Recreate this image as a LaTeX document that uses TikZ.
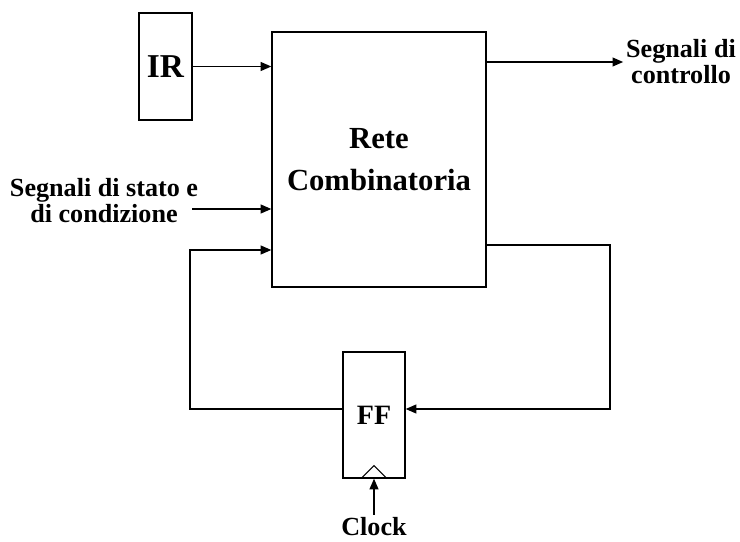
\documentclass[tikz,border=0pt]{standalone}
\usepackage{fontspec}
\setmainfont{Liberation Serif}
\usetikzlibrary{arrows.meta}

\tikzset{
  >={Triangle[length=8pt,width=6.5pt]},
  blocco/.style={draw, line width=0.9pt, rectangle, inner sep=0pt},
  segnale/.style={line width=1.4pt},
  etichetta/.style={font=\fontsize{19.6}{19.5}\selectfont\bfseries, align=center, inner sep=2pt}
}

\begin{document}
\begin{tikzpicture}[x=0.75pt, y=-0.75pt]
                \useasboundingbox (0,0) rectangle (740,542);
                % blocchi
                \node[blocco, minimum width=39.75pt, minimum height=80.25pt, font=\fontsize{25}{25}\selectfont\bfseries] (ir) at (165.5,66.5) {IR};
                \node[blocco, minimum width=160.5pt, minimum height=191.25pt, align=center, font=\fontsize{23}{31.5}\selectfont\bfseries] (rete) at (379,159.5) {Rete\\Combinatoria};
                \node[blocco, minimum width=46.5pt, minimum height=94.5pt, font=\fontsize{21}{21}\selectfont\bfseries] (ff) at (374,415) {FF};
                % etichette
                \node[etichetta] (ctrl) at (681,62) {Segnali di\\controllo};
                \node[etichetta] (stato) at (104,201) {Segnali di stato e\\di condizione};
                \node[etichetta] (clock) at (374,527) {Clock};
                \coordinate (sin) at (192,209);
                % collegamenti
                \draw[segnale, ->] (ir.east) -- (ir.east -| rete.west);
                \draw[segnale, ->] (rete.east |- ctrl.west) -- (ctrl.west);
                \draw[segnale, ->] (sin) -- (sin -| rete.west);
                % retroazione
                \draw[segnale, ->] (ff.west |- 0,409) -| (190,250) -- (rete.west |- 0,250);
                \draw[segnale, ->] (rete.east |- 0,245) -| (610,409) -- (ff.east |- 0,409);
                % clock
                \draw[line width=0.9pt] (ff.south) ++(-13,0) -- ++(13,-13) -- ++(13,13);
                \draw[segnale, ->] (clock.north -| ff.south) -- (ff.south);
            \end{tikzpicture}
\end{document}
